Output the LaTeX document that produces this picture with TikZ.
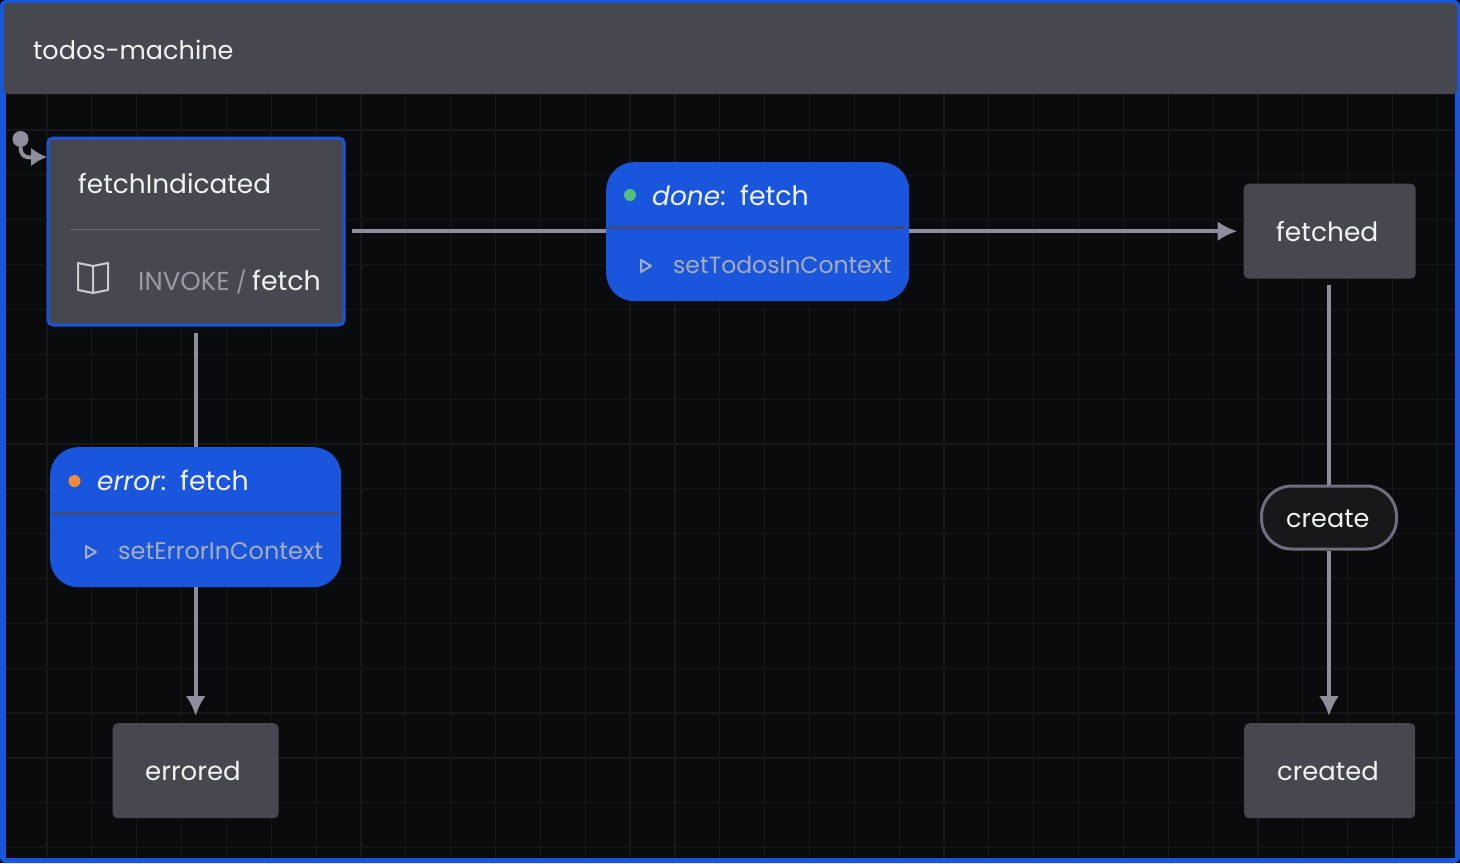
\documentclass[tikz,border=0pt]{standalone}
\usepackage{xcolor}
\usepackage{fontspec}
\setmainfont{Poppins}
\usetikzlibrary{arrows.meta}
\definecolor{pagebg}{HTML}{0A0B0D}
\definecolor{gridline}{HTML}{15171A}
\definecolor{framecol}{HTML}{1A56DB}
\definecolor{statecol}{HTML}{47474F}
\definecolor{edgecol}{HTML}{8E8E9C}
\definecolor{dimtext}{HTML}{A6ABBE}
\definecolor{invokecol}{HTML}{9A9AA6}
\definecolor{seprule}{HTML}{3F4C78}
\definecolor{donedot}{HTML}{52C07A}
\definecolor{errordot}{HTML}{F58B3C}
\definecolor{pillfill}{HTML}{17181A}
\definecolor{pillline}{HTML}{6E6E7E}
\tikzset{
  x=1pt,y=-1pt,
  edge/.style={draw=edgecol,line width=4pt,-{Latex[length=20pt,width=20pt]}},
  plainedge/.style={draw=edgecol,line width=4pt},
  statebox/.style={fill=statecol,rounded corners=5pt,inner sep=0pt,anchor=north west},
  eventbox/.style={fill=framecol,rounded corners=28pt,inner sep=0pt,anchor=north west},
  label/.style={font=\fontsize{26}{26}\selectfont,text=white!95!black,inner sep=0pt,anchor=base west},
  dim/.style={label,font=\fontsize{23.5}{26}\selectfont,text=dimtext}
}
\begin{document}
\begin{tikzpicture}
    \useasboundingbox (0,0) rectangle (1460,863);
    \fill[black] (0,0) rectangle (1460,863);
    \fill[framecol,rounded corners=6pt] (0,0) rectangle (1460,863);
    \fill[pagebg] (6,90) rectangle (1455,858);
    % grid
    \foreach \gx in {0,...,31}
        \draw[gridline,line width=1.2pt] ({47+44.85*\gx},94) -- ({47+44.85*\gx},858) ;
    \foreach \gy in {0,...,16}
        \draw[gridline,line width=1.2pt] (6,{130+44.85*\gy}) -- (1455,{130+44.85*\gy});
    \fill[statecol,rounded corners=4pt] (4,3) -- (1457,3) -- (1457,94) -- (4,94) -- cycle;
    \node[label,font=\fontsize{25.5}{26}\selectfont] (title) at (33,59) {todos-machine};

    % states
    \node[statebox,draw=framecol,line width=3pt,minimum width=296pt,minimum height=187pt] (fetchIndicated) at (46.5,136.5) {};
    \node[statebox,minimum width=172pt,minimum height=95pt] (fetched) at (1243.5,183.5) {};
    \node[statebox,minimum width=166pt,minimum height=95pt] (errored) at (112.5,723) {};
    \node[statebox,minimum width=171pt,minimum height=95pt] (created) at (1244,723) {};
    \node[label,font=\fontsize{26.4}{26}\selectfont] (fetchIndicatedText) at (78,193) {fetchIndicated};
    \draw[statecol!80!white,line width=1.5pt] (71,229.5) -- (320,229.5);
    \node[label,text=invokecol] (invokeText) at (138,290) {INVOKE};
    \node[label,font=\fontsize{22}{26}\selectfont,text=invokecol] (invokeSlash) at (236,290) {/};
    \node[label,font=\fontsize{26.8}{26}\selectfont] (invokeName) at (252,290) {fetch};
    \draw[white!72!statecol,line width=2pt,line join=round] (78,263) -- (93,266) -- (108,263) -- (108,290) -- (93,293) -- (78,290) -- cycle (93,266) -- (93,293);
    \node[label,font=\fontsize{26.5}{26}\selectfont] (fetchedText) at (1276,241) {fetched};
    \node[label] (erroredText) at (145,780) {errored};
    \node[label,font=\fontsize{25.8}{26}\selectfont] (createdText) at (1277,780) {created};

    % events
    \node[eventbox,minimum width=303pt,minimum height=139pt] (doneEvent) at (606,162) {};
    \node[eventbox,minimum width=291pt,minimum height=140pt] (errorEvent) at (50,447) {};
    \node[fill=pillfill,draw=pillline,line width=3pt,rounded corners=30pt,minimum width=135pt,minimum height=63pt,inner sep=0pt] (createEvent) at (1329,517.5) {};
    \node[label,font=\fontsize{25.5}{26}\selectfont] (createText) at (1286,527) {create};

    \draw[seprule,line width=3pt] (609,227) -- (905,227);
    \fill[donedot] (630,195) circle (6pt);
    \node[label,font=\fontsize{26.4}{26}\selectfont\itshape] (doneText) at (652,205) {done\textup{:}};
    \node[label,font=\fontsize{26.8}{26}\selectfont] (doneName) at (740,205) {fetch};
    \draw[dimtext,line width=2pt,line join=round] (641,260) -- (651,266) -- (641,272) -- cycle;
    \node[dim] (doneAction) at (673,273) {setTodosInContext};

    \draw[seprule,line width=3pt] (53,513) -- (338,513);
    \fill[errordot] (74.5,481) circle (6pt);
    \node[label,font=\fontsize{26.4}{26}\selectfont\itshape] (errorText) at (97,490) {error\textup{:}};
    \node[label,font=\fontsize{26.8}{26}\selectfont] (errorName) at (180,490) {fetch};
    \draw[dimtext,line width=2pt,line join=round] (86,546) -- (96,552) -- (86,558) -- cycle;
    \node[dim,font=\fontsize{24}{26}\selectfont] (errorAction) at (118,559) {setErrorInContext};

    % connectors
    \node[circle,fill=edgecol,minimum size=16pt,inner sep=0pt] (initial) at (20.5,139) {};
    \coordinate (initialEnd) at (47,157);
    \draw[edge,-{Latex[length=16pt,width=19pt]}] (initial) to[out=-90,in=180,looseness=1.2] (initialEnd);
    \draw[plainedge,shorten <=6pt] (fetchIndicated.east |- fetched.west) -- (doneEvent.west |- fetched.west);
    \draw[edge,shorten >=6pt] (doneEvent.east |- fetched.west) -- (fetched.west);
    \draw[plainedge,shorten <=6pt] (errorEvent.north |- fetchIndicated.south) -- (errorEvent.north);
    \draw[edge,shorten >=7pt] (errorEvent.south) -- (errored.north -| errorEvent.south);
    \draw[plainedge,shorten <=6pt] (fetched.south -| createEvent.north) -- (createEvent.north);
    \draw[edge,shorten >=7pt] (createEvent.south) -- (created.north -| createEvent.south);
\end{tikzpicture}
\end{document}
